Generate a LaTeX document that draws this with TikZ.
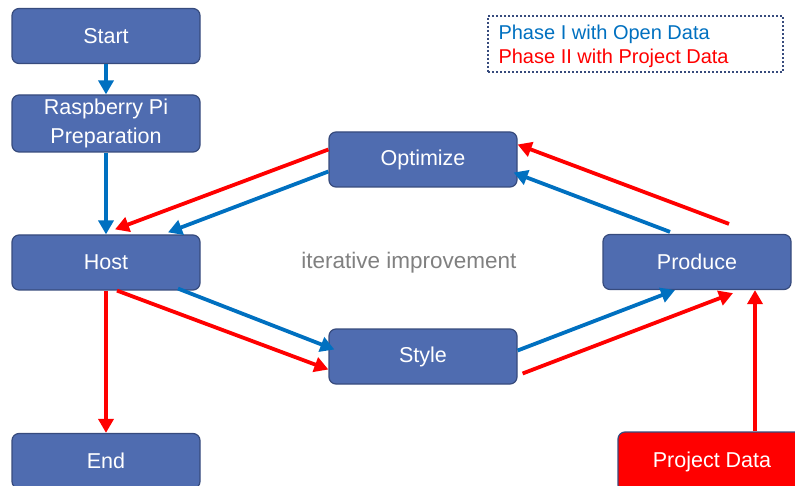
\documentclass[tikz,border=0pt]{standalone}
\usepackage{fontspec}
\setmainfont{Liberation Sans}
\usetikzlibrary{arrows.meta}
\definecolor{boxfill}{RGB}{79,108,176}
\definecolor{boxline}{RGB}{55,75,125}
\definecolor{flowblue}{RGB}{0,112,192}
\definecolor{flowred}{RGB}{255,0,0}
\definecolor{notegray}{RGB}{128,128,128}
\tikzset{
  stepbox/.style={draw=boxline, line width=1.2pt, fill=boxfill, rounded corners=7pt,
    minimum width=188pt, minimum height=55pt, inner sep=0pt,
    text=white, font=\fontsize{21.5}{28.5}\selectfont, align=center},
  bluearrow/.style={draw=flowblue, line width=3.8pt, -{Triangle[length=14pt,width=15pt]}},
  redarrow/.style={draw=flowred, line width=3.8pt, -{Triangle[length=14pt,width=15pt]}},
}
\begin{document}
\begin{tikzpicture}[x=1pt,y=-1pt]
\useasboundingbox (0,0) rectangle (795,486);
\clip (0,0) rectangle (795,486);

% process steps
\node[stepbox] (start) at (106,36) {Start};
\node[stepbox, minimum height=57pt] (prep) at (106,123.5) {Raspberry Pi\\Preparation};
\node[stepbox] (host) at (106,262.5) {Host};
\node[stepbox] (end) at (106,461) {End};
\node[stepbox] (opt) at (423,159.5) {Optimize};
\node[stepbox] (style) at (423,356.5) {Style};
\node[stepbox] (prod) at (697,262) {Produce};
\node[stepbox, fill=flowred, minimum height=60pt] (pdata) at (712,462) {Project Data};

% centre note
\node[text=notegray, font=\fontsize{22.5}{26}\selectfont] (note) at (409,263) {iterative improvement};

% legend
\node[draw=boxline, dotted, line width=2pt, minimum width=295pt, minimum height=56pt,
  inner sep=0pt] (legend) at (635.5,44) {};
\node[anchor=west, text=flowblue, font=\fontsize{20}{22}\selectfont] (leg1) at (495,34) {Phase I with Open Data};
\node[anchor=west, text=flowred, font=\fontsize{20}{22}\selectfont] (leg2) at (495,58) {Phase II with Project Data};

% linear flow
\draw[bluearrow] (start.south) -- (prep.north);
\draw[bluearrow] (prep.south) -- (host.north);
\draw[redarrow] (host.south) -- (end.north);

% improvement loop (shifts are in canvas units: positive yshift points up)
\draw[redarrow] ([yshift=10pt]opt.west) -- ([xshift=9pt,yshift=5pt]host.north);
\draw[bluearrow] ([yshift=-12pt]opt.west) -- ([xshift=62pt,yshift=2pt]host.north);
\draw[redarrow] ([xshift=32pt,yshift=10pt]prod.north) -- ([yshift=15pt]opt.east);
\draw[bluearrow] ([xshift=-27pt,yshift=2pt]prod.north) -- ([xshift=-4pt,yshift=-13pt]opt.east);
\draw[bluearrow] ([xshift=72pt,yshift=2pt]host.south) -- ([xshift=6pt,yshift=7pt]style.west);
\draw[redarrow] ([xshift=11pt]host.south) -- ([yshift=-13pt]style.west);
\draw[bluearrow] ([yshift=6pt]style.east) -- ([xshift=-22pt]prod.south);
\draw[redarrow] ([xshift=5pt,yshift=-17pt]style.east) -- ([xshift=36pt,yshift=-3pt]prod.south);
\draw[redarrow] ([xshift=43pt]pdata.north) -- ([xshift=58pt]prod.south);
\end{tikzpicture}
\end{document}
